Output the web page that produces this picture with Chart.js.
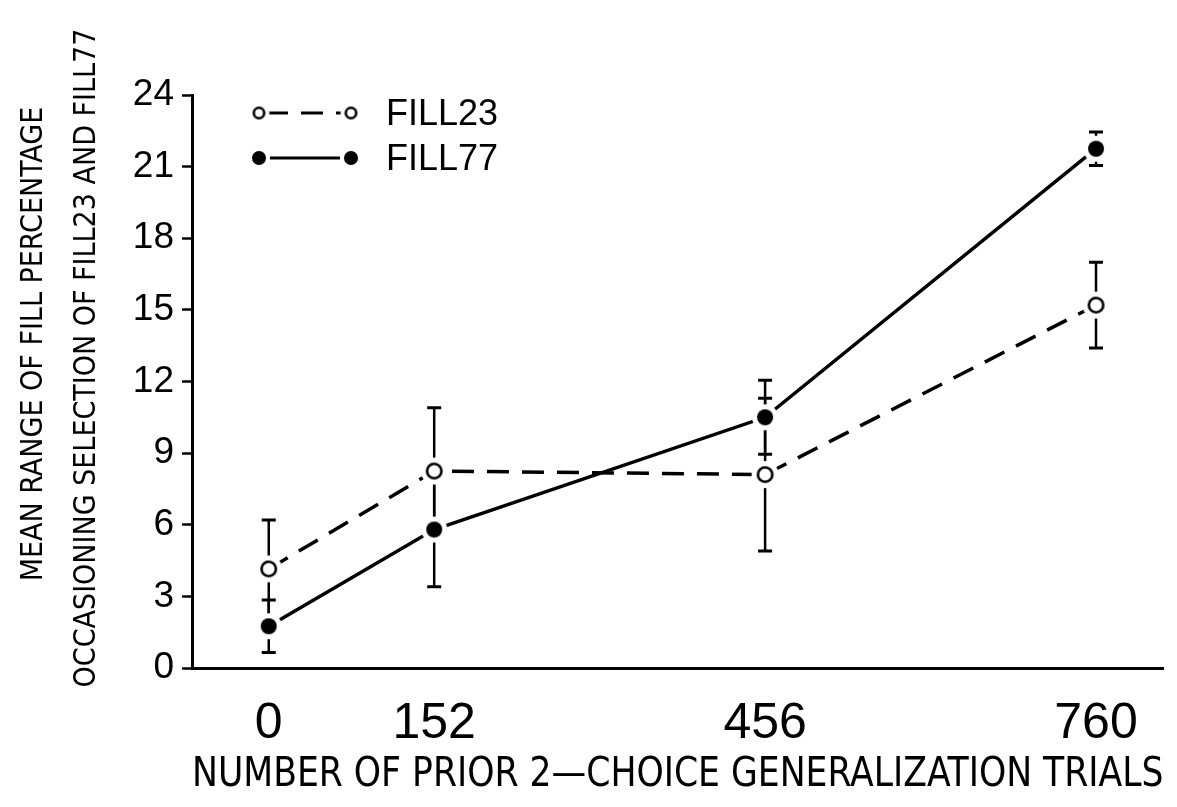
<!DOCTYPE html>
<html>
<head>
<meta charset="utf-8">
<script src="https://cdn.jsdelivr.net/npm/chart.js@4/dist/chart.umd.min.js"></script>
<style>
  html, body { margin: 0; padding: 0; background: #fff; }
  #wrap { width: 1177px; height: 807px; }
</style>
</head>
<body>
<div id="wrap"><canvas id="myChart" width="1177" height="807"></canvas></div>
<script>
// Prior 2-choice generalization trials (x values)
const trials = [0, 152, 456, 760];
const xTickValues = [0, 152, 456, 760];
const yTickValues = [0, 3, 6, 9, 12, 15, 18, 21, 24];

// Mean range of fill percentage, with error bar half-lengths
const fill23Mean = [4.15, 8.25, 8.1, 15.2];
const fill23Err = [2.05, 2.65, 3.2, 1.8];
const fill77Mean = [1.75, 5.8, 10.5, 21.75];
const fill77Err = [1.1, 2.4, 1.55, 0.7];

const seriesLabels = ['FILL23', 'FILL77'];
const yTitleLines = ['MEAN RANGE OF FILL PERCENTAGE', 'OCCASIONING SELECTION OF FILL23 AND FILL77'];
const xTitle = 'NUMBER OF PRIOR 2\u2014CHOICE GENERALIZATION TRIALS';

const narrowFont = "'Liberation Sans Narrow', 'DejaVu Sans Condensed', sans-serif";
const plainFont = "'Liberation Sans', Arial, sans-serif";

// marker with a white halo so lines stop short of it
function makeMarker(r, filled, halo) {
    const c = document.createElement('canvas');
    const size = Math.ceil(2 * (r + halo) + 2);
    c.width = size;
    c.height = size;
    const g = c.getContext('2d');
    const m = size / 2;
    g.fillStyle = '#fff';
    g.beginPath();
    g.arc(m, m, r + halo, 0, Math.PI * 2);
    g.fill();
    g.beginPath();
    if (filled) {
        g.arc(m, m, r, 0, Math.PI * 2);
        g.fillStyle = '#000';
        g.fill();
    } else {
        g.arc(m, m, r - 1.3, 0, Math.PI * 2);
        g.lineWidth = 2.6;
        g.strokeStyle = '#000';
        g.stroke();
    }
    return c;
}

const openMarker = makeMarker(8.5, false, 5);
const filledMarker = makeMarker(8, true, 5);
const openMarkerSmall = makeMarker(6.5, false, 4);
const filledMarkerSmall = makeMarker(7, true, 4);

function toPoints(means) {
    return trials.map((t, i) => ({ x: t, y: means[i] }));
}

const errorBars = {
    id: 'errorBars',
    beforeDatasetsDraw(chart) {
        const ctx = chart.ctx;
        const xs = chart.scales.x;
        const ys = chart.scales.y;
        const errs = [fill23Err, fill77Err];
        ctx.save();
        ctx.strokeStyle = '#000';
        chart.data.datasets.forEach((ds, di) => {
            ds.data.forEach((p, i) => {
                const px = xs.getPixelForValue(p.x);
                const top = ys.getPixelForValue(p.y + errs[di][i]);
                const bot = ys.getPixelForValue(p.y - errs[di][i]);
                ctx.lineWidth = 2.5;
                ctx.beginPath();
                ctx.moveTo(px, top);
                ctx.lineTo(px, bot);
                ctx.stroke();
                ctx.lineWidth = 3;
                ctx.beginPath();
                ctx.moveTo(px - 7, top);
                ctx.lineTo(px + 7, top);
                ctx.moveTo(px - 7, bot);
                ctx.lineTo(px + 7, bot);
                ctx.stroke();
            });
        });
        ctx.restore();
    }
};

const lineLegend = {
    id: 'lineLegend',
    afterDraw(chart) {
        const ctx = chart.ctx;
        const rowsY = [113, 158];
        const markers = [openMarkerSmall, filledMarkerSmall];
        ctx.save();
        chart.data.datasets.forEach((ds, i) => {
            const y = rowsY[i];
            ctx.strokeStyle = '#000';
            ctx.lineWidth = 3;
            ctx.setLineDash(ds.borderDash || []);
            ctx.beginPath();
            ctx.moveTo(266, y);
            ctx.lineTo(346, y);
            ctx.stroke();
            ctx.setLineDash([]);
            const mk = markers[i];
            ctx.drawImage(mk, 259 - mk.width / 2, y - mk.height / 2);
            ctx.drawImage(mk, 351 - mk.width / 2, y - mk.height / 2);
            ctx.fillStyle = '#000';
            ctx.font = '36px ' + plainFont;
            ctx.textBaseline = 'middle';
            ctx.textAlign = 'left';
            ctx.fillText(ds.label, 386, y + 2);
        });
        ctx.restore();
    }
};

// two-line rotated y axis title
const yTitle = {
    id: 'yTitle',
    afterDraw(chart) {
        const ctx = chart.ctx;
        const spots = [{ x: 34, y: 344, size: 30 }, { x: 87, y: 358, size: 30 }];
        ctx.save();
        ctx.fillStyle = '#000';
        ctx.textAlign = 'center';
        ctx.textBaseline = 'middle';
        yTitleLines.forEach((line, i) => {
            const s = spots[i];
            ctx.save();
            ctx.translate(s.x, s.y);
            ctx.rotate(-Math.PI / 2);
            ctx.font = s.size + 'px ' + narrowFont;
            ctx.fillText(line, 0, 0);
            ctx.restore();
        });
        ctx.restore();
    }
};

new Chart(document.getElementById('myChart'), {
    type: 'line',
    data: {
        datasets: [{
            label: seriesLabels[0],
            data: toPoints(fill23Mean),
            borderColor: '#000',
            borderWidth: 3.5,
            borderDash: [22, 13],
            pointStyle: openMarker,
            pointRadius: 10,
            tension: 0,
            fill: false
        }, {
            label: seriesLabels[1],
            data: toPoints(fill77Mean),
            borderColor: '#000',
            borderWidth: 3.5,
            pointStyle: filledMarker,
            pointRadius: 10,
            tension: 0,
            fill: false
        }]
    },
    options: {
        responsive: false,
        animation: false,
        events: [],
        layout: {
            padding: { top: 95, right: -3, left: 0, bottom: 0 }
        },
        scales: {
            x: {
                type: 'linear',
                min: -70.5,
                max: 822,
                afterBuildTicks: (scale) => {
                    scale.ticks = xTickValues.map(v => ({ value: v }));
                },
                afterFit: (scale) => {
                    scale.height = 139;
                    scale.paddingLeft = 0;
                    scale.paddingRight = 0;
                },
                grid: { drawOnChartArea: false, drawTicks: false },
                border: { display: true, color: '#000', width: 3 },
                ticks: {
                    color: '#000',
                    font: { family: plainFont, size: 50 },
                    padding: 26,
                    maxRotation: 0,
                    autoSkip: false
                },
                title: {
                    display: true,
                    text: xTitle,
                    color: '#000',
                    font: { family: narrowFont, size: 40, lineHeight: 1.2 },
                    padding: { top: 0, bottom: 7 }
                }
            },
            y: {
                min: 0,
                max: 24,
                afterBuildTicks: (scale) => {
                    scale.ticks = yTickValues.map(v => ({ value: v }));
                },
                afterFit: (scale) => {
                    scale.width = 192;
                    scale.paddingTop = 0;
                    scale.paddingBottom = 0;
                },
                grid: {
                    drawOnChartArea: false,
                    drawTicks: true,
                    tickLength: 10,
                    tickWidth: 2.5,
                    tickColor: '#000'
                },
                border: { display: true, color: '#000', width: 3 },
                ticks: {
                    color: '#000',
                    font: { family: plainFont, size: 37 },
                    padding: 8
                },
                title: { display: false }
            }
        },
        plugins: {
            legend: { display: false },
            tooltip: { enabled: false }
        }
    },
    plugins: [errorBars, lineLegend, yTitle]
});
</script>
</body>
</html>
